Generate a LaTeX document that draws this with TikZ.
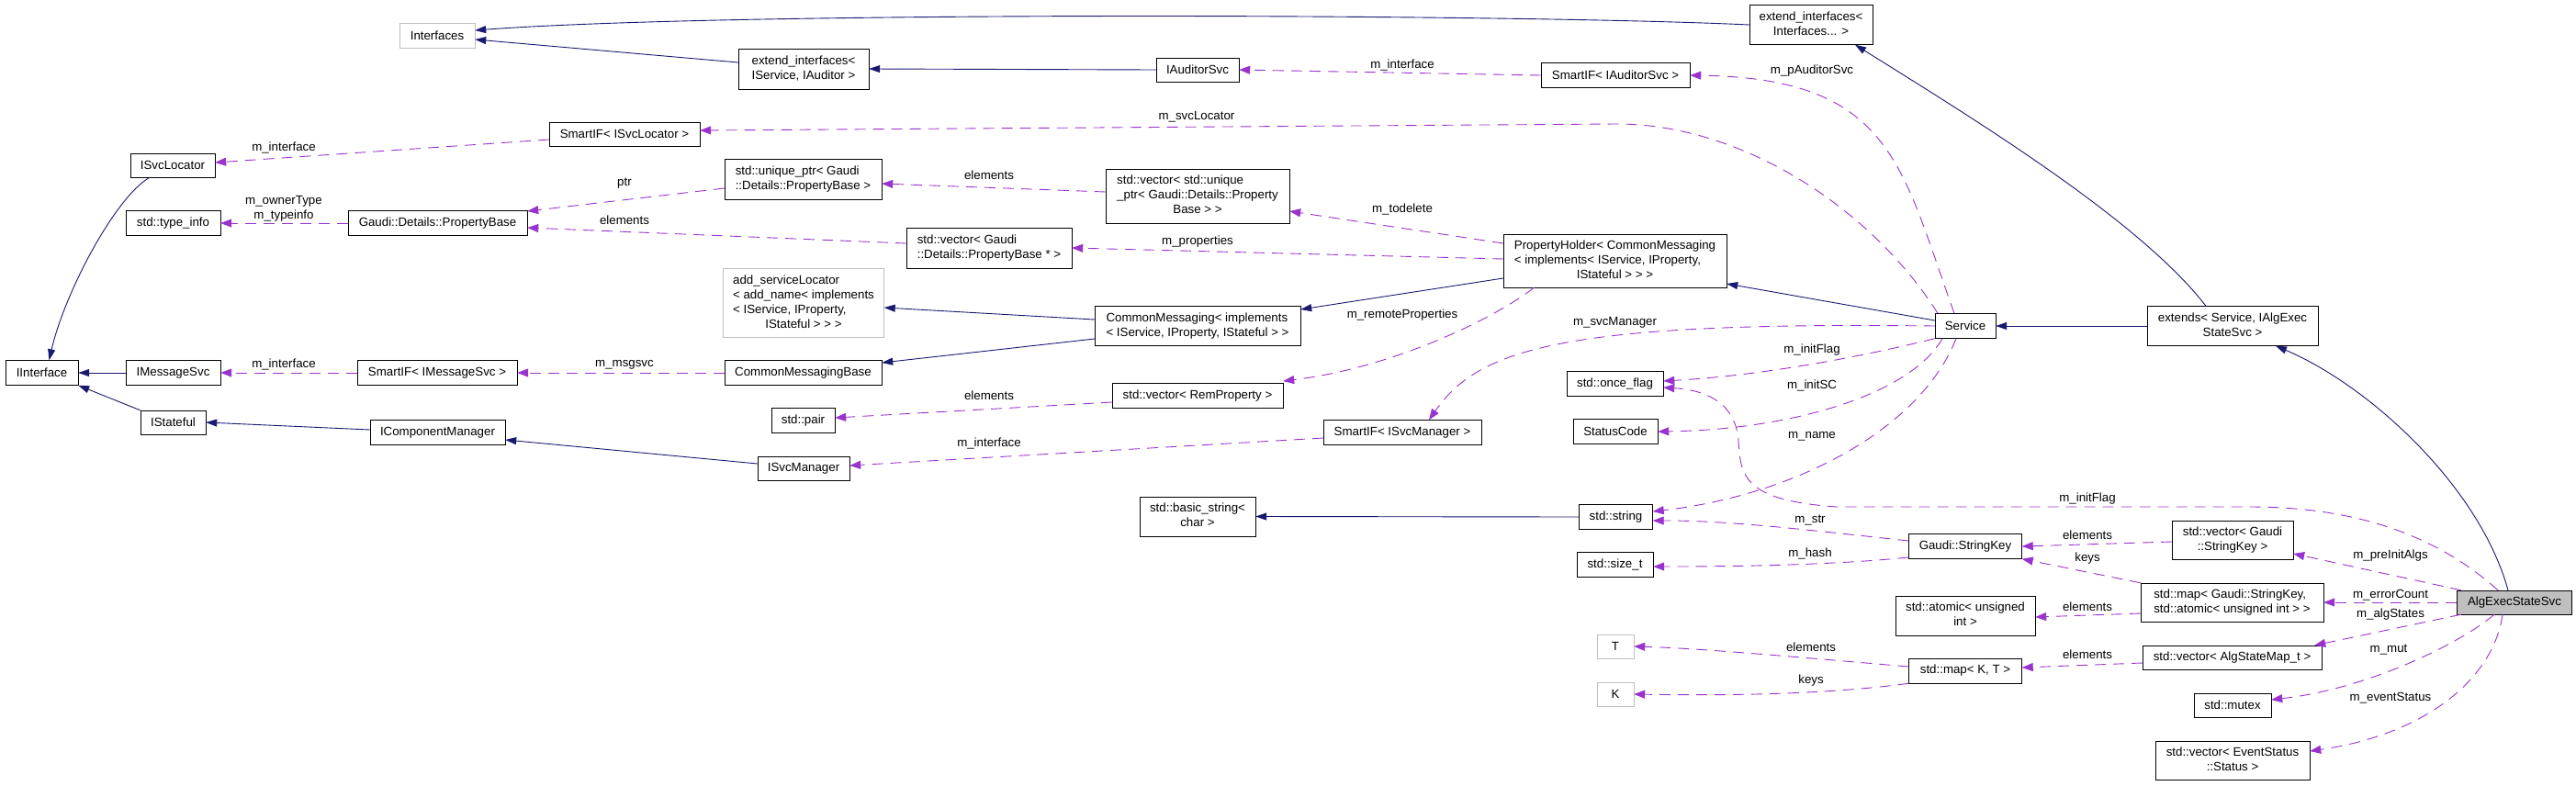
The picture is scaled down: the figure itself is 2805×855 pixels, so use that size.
\documentclass[tikz,border=0pt]{standalone}
\usepackage{fontspec}
\setmainfont{Liberation Sans}
\usetikzlibrary{arrows.meta}
\definecolor{inhblue}{RGB}{25,25,112}
\definecolor{usepurple}{RGB}{154,50,205}
\definecolor{boxgray}{RGB}{191,191,191}
% first lines flush left, last line centred
\newcommand{\doxlines}[2]{\begin{tabular}{@{}l@{}}#1\\\multicolumn{1}{@{}c@{}}{#2}\end{tabular}}

\begin{document}
\begin{tikzpicture}[x=1pt, y=-1pt,
    every node/.style={font=\fontsize{13.3}{16}\selectfont},
    box/.style={draw, fill=white, inner sep=0pt, minimum height=27pt, align=center},
    grbox/.style={box, draw=boxgray},
    lbl/.style={inner sep=1pt, align=center},
    inh/.style={draw=inhblue, line width=0.9pt, -{Triangle[length=12pt,width=8pt]}},
    use/.style={draw=usepurple, line width=0.9pt, dash pattern=on 12pt off 8pt, -{Triangle[length=12pt,width=9pt]}}
]
    \useasboundingbox (0,0) rectangle (2805,855);

    % left columns
    \node[grbox, minimum width=82pt] (ifcs) at (476,39) {Interfaces};
    \node[box, minimum width=92pt, minimum height=26pt] (svclocator) at (188,180) {ISvcLocator};
    \node[box, minimum width=103pt] (typeinfo) at (188.5,243) {std::type\_info};
    \node[box, minimum width=195pt] (propbase) at (476.5,243) {Gaudi::Details::PropertyBase};
    \node[box, minimum width=79pt] (iinterface) at (45.5,406) {IInterface};
    \node[box, minimum width=103pt] (msgsvc) at (188.5,406) {IMessageSvc};
    \node[box, minimum width=174pt] (smartmsg) at (476,406) {SmartIF< IMessageSvc >};
    \node[box, minimum width=71pt, minimum height=26pt] (istateful) at (188.5,460) {IStateful};
    \node[box, minimum width=147pt] (compmgr) at (476.5,471) {IComponentManager};
    \node[box, minimum width=164pt, minimum height=26pt] (smartloc) at (680,146) {SmartIF< ISvcLocator >};

    % middle columns
    \node[box, minimum width=142pt, minimum height=44pt] (extaud) at (875,75) {\doxlines{extend\_interfaces<}{IService, IAuditor >}};
    \node[box, minimum width=171pt, minimum height=44pt] (uniqueptr) at (874.5,195) {\doxlines{std::unique\_ptr< Gaudi}{::Details::PropertyBase >}};
    \node[grbox, minimum width=175pt, minimum height=75pt] (addsvc) at (875,330) {\doxlines{add\_serviceLocator\\< add\_name< implements\\< IService, IProperty,}{IStateful > > >}};
    \node[box, minimum width=171pt] (commsgbase) at (874.5,406) {CommonMessagingBase};
    \node[box, minimum width=69pt] (pair) at (874.5,458) {std::pair};
    \node[box, minimum width=100pt, minimum height=26pt] (svcmgr) at (875,510) {ISvcManager};
    \node[box, minimum width=180pt, minimum height=44pt] (vecprop) at (1077,270) {\doxlines{std::vector< Gaudi}{::Details::PropertyBase * >}};
    \node[box, minimum width=90pt, minimum height=26pt] (auditorsvc) at (1304,76) {IAuditorSvc};
    \node[box, minimum width=200pt, minimum height=59pt] (vecunique) at (1304,213.5) {\doxlines{std::vector< std::unique\\\_ptr< Gaudi::Details::Property}{Base > >}};
    \node[box, minimum width=224pt, minimum height=43pt] (commsg) at (1304,355) {\doxlines{CommonMessaging< implements}{< IService, IProperty, IStateful > >}};
    \node[box, minimum width=186pt] (vecrem) at (1304,431) {std::vector< RemProperty >};
    \node[box, minimum width=126pt, minimum height=43pt] (basicstr) at (1304,562.5) {\doxlines{std::basic\_string<}{char >}};
    \node[box, minimum width=172pt] (smartmgr) at (1527,471) {SmartIF< ISvcManager >};

    % right columns
    \node[box, minimum width=134pt, minimum height=43pt] (extifc) at (1972,27) {\doxlines{extend\_interfaces<}{Interfaces... >}};
    \node[box, minimum width=162pt] (smartaud) at (1759,82) {SmartIF< IAuditorSvc >};
    \node[box, minimum width=243pt, minimum height=58pt] (propholder) at (1758.5,284) {\doxlines{PropertyHolder< CommonMessaging\\< implements< IService, IProperty,}{IStateful > > >}};
    \node[box, minimum width=105pt] (oncef) at (1758.5,418) {std::once\_flag};
    \node[box, minimum width=92pt] (statuscode) at (1759,470) {StatusCode};
    \node[box, minimum width=80pt] (string) at (1759.5,563) {std::string};
    \node[box, minimum width=83pt] (sizet) at (1758.5,615) {std::size\_t};
    \node[grbox, minimum width=40pt, minimum height=26pt] (tnode) at (1759,704) {T};
    \node[grbox, minimum width=40pt, minimum height=26pt] (knode) at (1759,756) {K};
    \node[box, minimum width=66pt] (service) at (2140,355) {Service};
    \node[box, minimum width=123pt] (stringkey) at (2140,595) {Gaudi::StringKey};
    \node[box, minimum width=152pt, minimum height=43pt] (atomic) at (2140,670.5) {\doxlines{std::atomic< unsigned}{int >}};
    \node[box, minimum width=123pt] (mapkt) at (2140,730.5) {std::map< K, T >};
    \node[box, minimum width=186pt, minimum height=43pt] (extends) at (2431,355) {\doxlines{extends< Service, IAlgExec}{StateSvc >}};
    \node[box, minimum width=132pt, minimum height=42pt] (vecsk) at (2431,588) {\doxlines{std::vector< Gaudi}{::StringKey >}};
    \node[box, minimum width=199pt, minimum height=42pt] (mapsk) at (2430.5,656) {\doxlines{std::map< Gaudi::StringKey,}{std::atomic< unsigned int > >}};
    \node[box, minimum width=195pt, minimum height=26pt] (vecalg) at (2430.5,716) {std::vector< AlgStateMap\_t >};
    \node[box, minimum width=84pt, minimum height=26pt] (mutex) at (2431,768) {std::mutex};
    \node[box, minimum width=168pt, minimum height=42pt] (vecev) at (2431,828) {\doxlines{std::vector< EventStatus}{::Status >}};
    \node[box, fill=boxgray, minimum width=125pt, minimum height=26pt] (algexec) at (2738,656) {AlgExecStateSvc};

    % inheritance
    \draw[inh] (extifc.west) .. controls (1650,15) and (800,12) .. ([yshift=6pt]ifcs.east);
    \draw[inh] ([yshift=7pt]extaud.west) -- ([yshift=-4pt]ifcs.east);
    \draw[inh] (auditorsvc.west) -- (extaud.east);
    \draw[inh] ([xshift=-29pt]extends.north) .. controls (2330,240) and (2150,130) .. ([xshift=48pt]extifc.south);
    \draw[inh] ([xshift=-7pt]algexec.north) .. controls (2700,530) and (2580,420) .. ([xshift=47pt]extends.south);
    \draw[inh] ([yshift=6pt]service.west) -- ([yshift=-25pt]propholder.east);
    \draw[inh] (extends.west) -- (service.east);
    \draw[inh] ([yshift=-19pt]propholder.west) -- ([yshift=18pt]commsg.east);
    \draw[inh] ([yshift=7pt]commsg.west) -- ([yshift=-5pt]addsvc.east);
    \draw[inh] ([yshift=-14pt]commsg.west) -- ([yshift=11pt]commsgbase.east);
    \draw[inh] ([xshift=-25pt]svclocator.south) .. controls (125,215) and (70,320) .. ([xshift=8pt]iinterface.north);
    \draw[inh] (msgsvc.west) -- (iinterface.east);
    \draw[inh] (istateful.north west) -- (iinterface.south east);
    \draw[inh] ([yshift=3pt]compmgr.west) -- (istateful.east);
    \draw[inh] ([yshift=5pt]svcmgr.west) -- ([yshift=-8pt]compmgr.east);
    \draw[inh] (string.west) -- (basicstr.east);

    % usage
    \draw[use] ([yshift=-6pt]smartloc.west) -- ([yshift=3pt]svclocator.east);
    \draw[use] (propbase.west) -- (typeinfo.east);
    \draw[use] ([yshift=-10pt]uniqueptr.west) -- ([yshift=13pt]propbase.east);
    \draw[use] ([yshift=5pt]vecprop.west) -- ([yshift=-5pt]propbase.east);
    \draw[use] (smartmsg.west) -- (msgsvc.east);
    \draw[use] (commsgbase.west) -- (smartmsg.east);
    \draw[use] ([yshift=4.5pt]vecunique.west) -- ([yshift=-5pt]uniqueptr.east);
    \draw[use] (smartaud.west) -- (auditorsvc.east);
    \draw[use] ([xshift=-30pt]service.north) .. controls (2040,230) and (1900,135) .. (1760,135) -- ([yshift=4pt]smartloc.east);
    \draw[use] ([yshift=19pt]propholder.west) -- ([yshift=-16.5pt]vecunique.east);
    \draw[use] ([yshift=2pt]propholder.west) -- (vecprop.east);
    \draw[use] ([xshift=-88pt]propholder.south) .. controls (1630,345) and (1520,400) .. ([yshift=16pt]vecrem.east);
    \draw[use] ([yshift=-7pt]vecrem.west) -- ([yshift=3pt]pair.east);
    \draw[use] ([yshift=-6pt]smartmgr.west) -- ([yshift=3pt]svcmgr.east);
    \draw[use] ([xshift=-12pt]service.north) .. controls (2070,180) and (2060,85) .. (smartaud.east);
    \draw[use] (service.west) .. controls (1700,350) and (1610,380) .. ([xshift=29pt]smartmgr.north);
    \draw[use] (service.south west) .. controls (2000,395) and (1900,410) .. ([yshift=3pt]oncef.east);
    \draw[use] ([xshift=-25pt]service.south) .. controls (2080,430) and (1950,468) .. (statuscode.east);
    \draw[use] ([xshift=-10pt]service.south) .. controls (2090,470) and (1950,540) .. ([yshift=6pt]string.east);
    \draw[use] ([yshift=6pt]stringkey.west) .. controls (1950,575) and (1880,567) .. ([yshift=-4pt]string.east);
    \draw[use] ([yshift=-12pt]stringkey.west) .. controls (2000,615) and (1900,617) .. ([yshift=-2pt]sizet.east);
    \draw[use] ([yshift=-2pt]vecsk.west) -- (stringkey.east);
    \draw[use] (mapsk.north west) -- (stringkey.south east);
    \draw[use] ([yshift=-12pt]mapsk.west) -- ([yshift=-1.5pt]atomic.east);
    \draw[use] ([yshift=-6pt]vecalg.west) -- ([yshift=3.5pt]mapkt.east);
    \draw[use] ([yshift=4.5pt]mapkt.west) .. controls (1950,715) and (1850,706) .. (tnode.east);
    \draw[use] (mapkt.south west) .. controls (2000,755) and (1900,758) .. (knode.east);
    \draw[use] ([xshift=-18pt]algexec.north) .. controls (2650,580) and (2560,552) .. (2450,552) -- (2000,552) .. controls (1900,545) and (1895,520) .. (1893,480) .. controls (1890,440) and (1860,425) .. ([yshift=-4pt]oncef.east);
    \draw[use] ([xshift=-58pt]algexec.north) -- ([yshift=-15pt]vecsk.east);
    \draw[use] (algexec.west) -- (mapsk.east);
    \draw[use] ([xshift=-58pt]algexec.south) -- ([xshift=-8pt]vecalg.north east);
    \draw[use] ([xshift=-22pt]algexec.south) .. controls (2680,700) and (2580,750) .. ([yshift=6pt]mutex.east);
    \draw[use] ([xshift=-13pt]algexec.south) .. controls (2715,740) and (2640,800) .. ([yshift=10pt]vecev.east);

    % member labels
    \node[lbl] (lifloc) at (309,161) {m\_interface};
    \node[lbl] (lowner) at (309,227) {m\_ownerType\\m\_typeinfo};
    \node[lbl] (lifmsg) at (309,397) {m\_interface};
    \node[lbl] (lptr) at (680,200) {ptr};
    \node[lbl] (lelpb) at (680,240) {elements};
    \node[lbl] (lmsgsvc) at (680,397) {m\_msgsvc};
    \node[lbl] (leluq) at (1077,191) {elements};
    \node[lbl] (lelpair) at (1077,431) {elements};
    \node[lbl] (lifmgr) at (1077,483) {m\_interface};
    \node[lbl] (lsvcloc) at (1303,127) {m\_svcLocator};
    \node[lbl] (lprops) at (1304,263) {m\_properties};
    \node[lbl] (lifaud) at (1527,71) {m\_interface};
    \node[lbl] (ltodel) at (1527,228) {m\_todelete};
    \node[lbl] (lremote) at (1527,343) {m\_remoteProperties};
    \node[lbl] (lsvcmgr) at (1758.5,351) {m\_svcManager};
    \node[lbl] (lpaud) at (1973,77) {m\_pAuditorSvc};
    \node[lbl] (linitf) at (1973,381) {m\_initFlag};
    \node[lbl] (linitsc) at (1973,420) {m\_initSC};
    \node[lbl] (lname) at (1973,475) {m\_name};
    \node[lbl] (lstr) at (1971,567) {m\_str};
    \node[lbl] (lhash) at (1971,603) {m\_hash};
    \node[lbl] (lelt) at (1972,705) {elements};
    \node[lbl] (lkeysk) at (1972,741) {keys};
    \node[lbl] (linitf2) at (2273,543) {m\_initFlag};
    \node[lbl] (lelsk) at (2273,583) {elements};
    \node[lbl] (lkeys) at (2273,608) {keys};
    \node[lbl] (lelat) at (2273,661) {elements};
    \node[lbl] (lelmap) at (2273,713) {elements};
    \node[lbl] (lpreinit) at (2603,605) {m\_preInitAlgs};
    \node[lbl] (lerr) at (2603,648) {m\_errorCount};
    \node[lbl] (lalg) at (2603,669) {m\_algStates};
    \node[lbl] (lmut) at (2601,708) {m\_mut};
    \node[lbl] (levst) at (2603,760) {m\_eventStatus};
\end{tikzpicture}
\end{document}
